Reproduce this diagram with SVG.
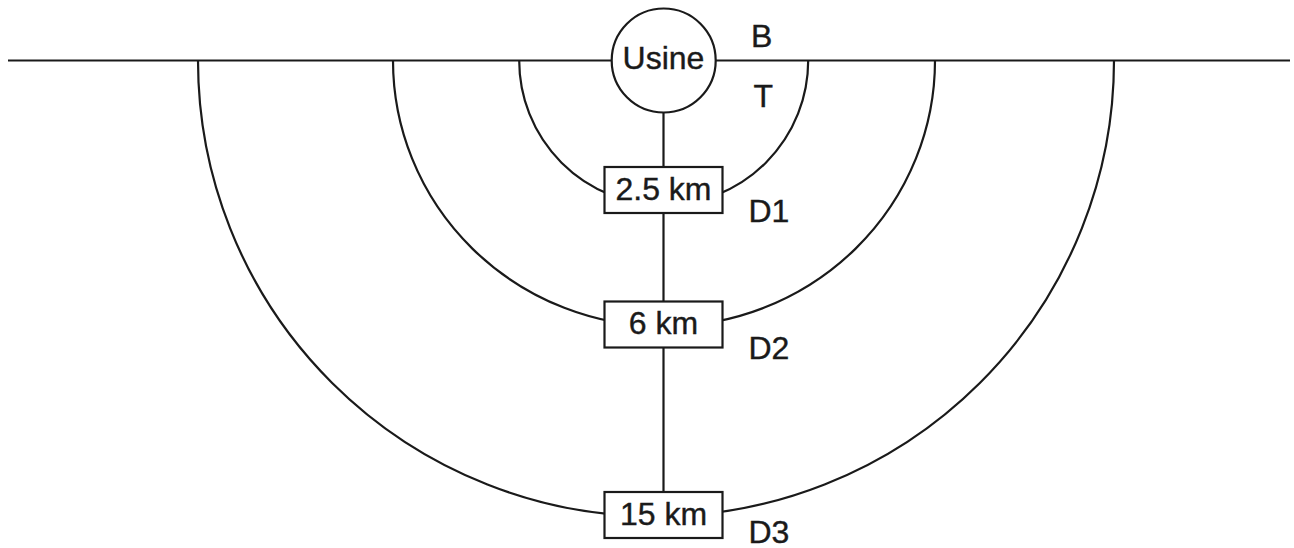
<svg xmlns="http://www.w3.org/2000/svg" width="1294" height="548" viewBox="0 0 1294 548">
<style>
.ln{fill:none;stroke:#1a1a1a;stroke-width:2.2}
.bx{fill:#fff;stroke:#1a1a1a;stroke-width:2.2}
.t{font-family:"Liberation Sans",Arial,sans-serif;font-size:32px;fill:#1a1a1a;stroke:#1a1a1a;stroke-width:0.4}
.c{text-anchor:middle}
</style>
<rect width="1294" height="548" fill="#fff"/>
<g id="connectors">
<line class="ln" x1="8" y1="60.5" x2="1290" y2="60.5"/>
<path class="ln" d="M519.2,60.5 A144.5,144.5 0 0 0 808.2,60.5"/>
<path class="ln" d="M393,60.5 A271,266 0 0 0 935,60.5"/>
<path class="ln" d="M198,60.5 A458,456 0 0 0 1114,60.5"/>
<line class="ln" x1="663.5" y1="112" x2="663.5" y2="492"/>
</g>
<g id="usine">
<circle class="bx" cx="663.7" cy="60.5" r="52"/>
<text class="t c" x="663.5" y="68.5">Usine</text>
</g>
<g id="labelB"><text class="t" x="751" y="46.7">B</text></g>
<g id="labelT"><text class="t" x="753.5" y="106.7">T</text></g>
<g id="d1">
<rect class="bx" x="604.5" y="167" width="118" height="46"/>
<text class="t c" x="663.5" y="200">2.5 km</text>
<text class="t" x="748.5" y="221.7">D1</text>
</g>
<g id="d2">
<rect class="bx" x="604.5" y="301.5" width="118" height="46"/>
<text class="t c" x="663.5" y="333.5">6 km</text>
<text class="t" x="748.5" y="359">D2</text>
</g>
<g id="d3">
<rect class="bx" x="604.5" y="492" width="118" height="46"/>
<text class="t c" x="663.5" y="524.5">15 km</text>
<text class="t" x="748.5" y="543">D3</text>
</g>
</svg>
